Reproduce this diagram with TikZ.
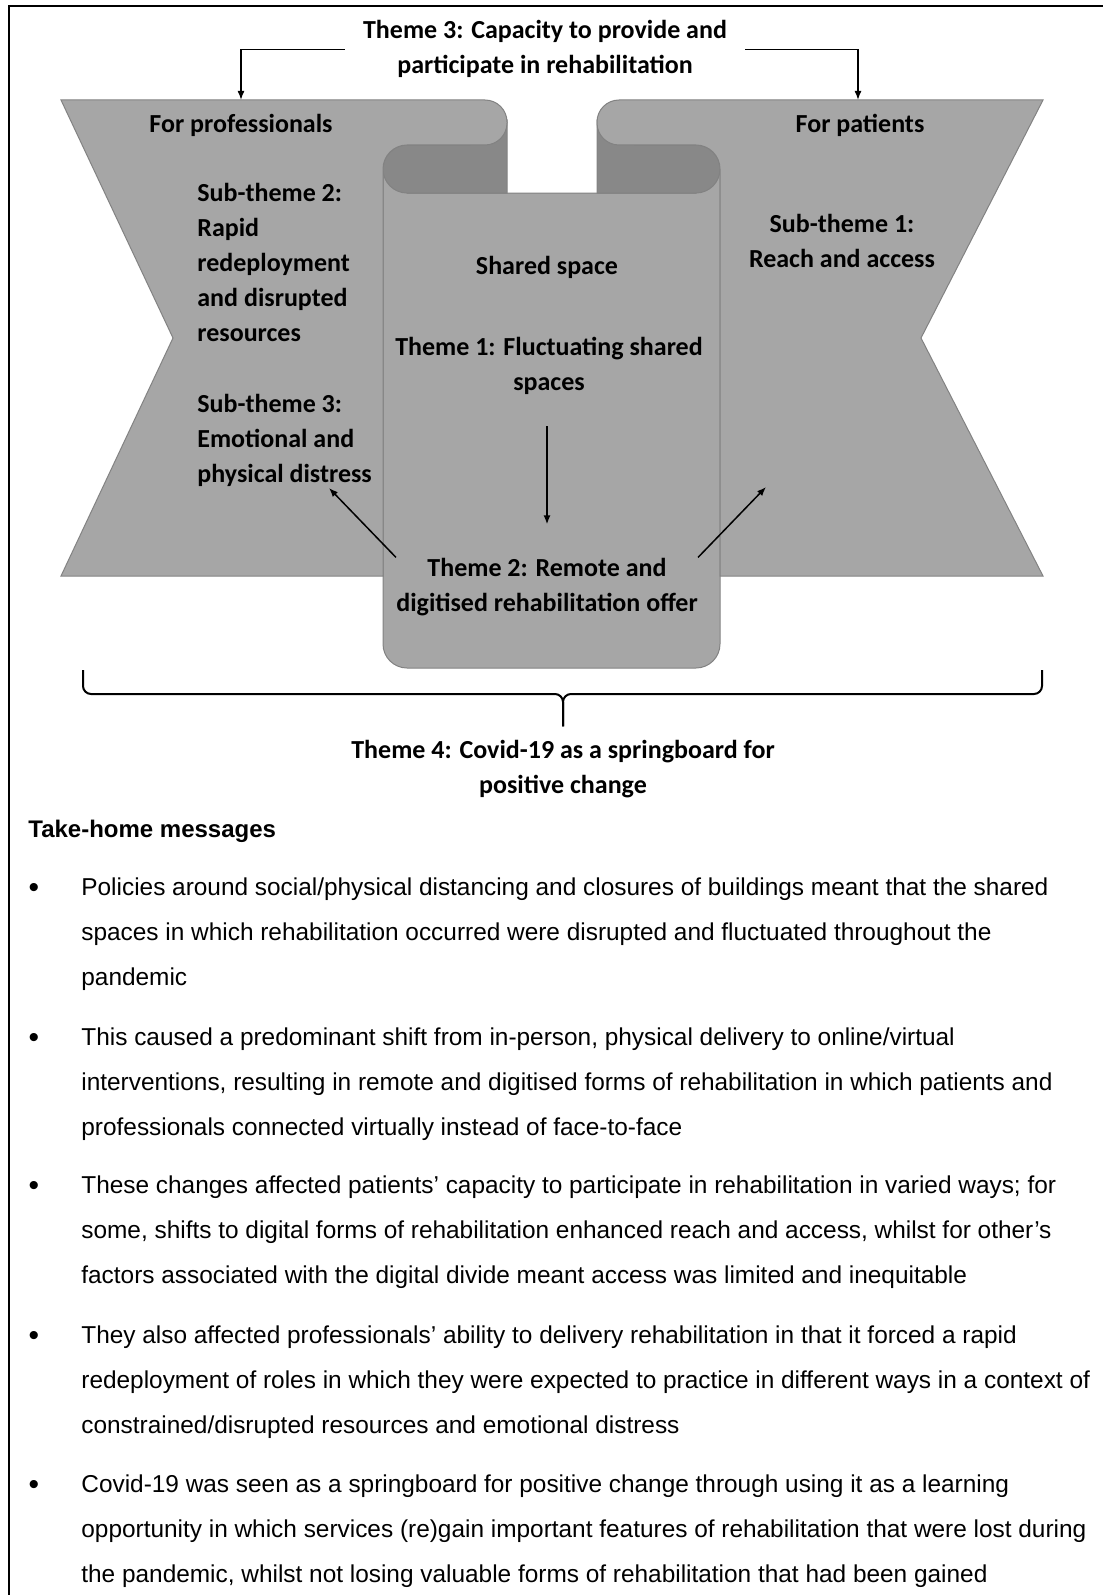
\documentclass[tikz,border=0pt]{standalone}
\usepackage{fontspec}
\setmainfont{Carlito}
\newfontfamily\arialfont{Liberation Sans}
\usepackage{tikz}
\usetikzlibrary{arrows.meta}

\definecolor{sheetgrey}{RGB}{166,166,166}
\definecolor{curlgrey}{RGB}{136,136,136}
\definecolor{edgegrey}{RGB}{130,130,130}

\begin{document}
\begin{tikzpicture}[x=0.5pt, y=-0.5pt,
        sheet/.style={fill=sheetgrey, draw=edgegrey, line width=0.5pt},
        curl/.style={fill=curlgrey, draw=edgegrey, line width=0.5pt},
        theme/.style={font=\bfseries\fontsize{13}{17.5}\selectfont, align=center, inner sep=0pt, anchor=base},
        subtheme/.style={font=\bfseries\fontsize{13}{17.5}\selectfont, align=left, inner sep=0pt, anchor=base west},
        link/.style={line width=0.75pt, -{Latex[length=4.5pt, width=3.5pt]}},
        message/.style={font=\arialfont\fontsize{12.2}{22.35}\selectfont, align=left, inner sep=0pt, anchor=base west},
        dot/.style={font=\arialfont\fontsize{15}{16}\selectfont, inner sep=0pt, anchor=base}]

            \useasboundingbox (0,0) rectangle (1103,1595);
            \draw[line width=1.2pt] (9,1595) -- (9,6) -- (1103,6);

            \path[sheet] (383,169) -- (383,644) arc[start angle=180, end angle=90, radius=24] -- (696,668) arc[start angle=90, end angle=0, radius=24] -- (720,169) -- (696,169) -- (696,193) -- (407,193) -- (407,169) -- cycle;
            \path[curl] (507,120) -- (507,193) -- (407,193) arc[start angle=90, end angle=270, radius=24] -- (470,145) -- (470,120) -- cycle;
            \path[curl] (597,120) -- (597,193) -- (696,193) arc[start angle=90, end angle=-90, radius=24] -- (634,145) -- (634,120) -- cycle;
            \path[sheet] (173,338) -- (61,100) -- (485,100) arc[start angle=270, end angle=360, radius=22] -- (507,123) arc[start angle=0, end angle=90, radius=22] -- (407,145) arc[start angle=270, end angle=180, radius=24] -- (383,576) -- (61,576) -- cycle;
            \path[sheet] (921,338) -- (1043,100) -- (619,100) arc[start angle=270, end angle=180, radius=22] -- (597,123) arc[start angle=180, end angle=90, radius=22] -- (696,145) arc[start angle=270, end angle=360, radius=24] -- (720,576) -- (1043,576) -- cycle;

            \node[theme, inner xsep=9pt] (capacity) at (545,74) {Theme 3: Capacity to provide and\\participate in rehabilitation};
            \node[theme] (forprof) at (241,133) {For professionals};
            \node[theme] (forpat) at (860,133) {For patients};
            \node[subtheme] (redeploy) at (197,341) {Sub-theme 2:\\Rapid\\redeployment\\and disrupted\\resources};
            \node[subtheme] (distress) at (197,482) {Sub-theme 3:\\Emotional and\\physical distress};
            \node[theme] (reach) at (842,267) {Sub-theme 1:\\Reach and access};
            \node[theme] (shared) at (547,274) {Shared space};
            \node[theme] (fluct) at (549,390) {Theme 1: Fluctuating shared\\spaces};
            \node[theme] (remote) at (547,611) {Theme 2: Remote and\\digitised rehabilitation offer};
            \node[theme] (spring) at (563,793) {Theme 4: Covid-19 as a springboard for\\positive change};

            \coordinate (proftop) at (241,100);
            \coordinate (pattop) at (858,100);
            \coordinate (distresstip) at (329,488);
            \coordinate (reachtip) at (766,487);
            \coordinate (braceleft) at (83,670);
            \coordinate (braceright) at (1042,670);
            \coordinate (bracemid) at (563,694);

            \draw[link] (capacity.west) -| (proftop);
            \draw[link] (capacity.east) -| (pattop);
            \draw[link, shorten <=16pt, shorten >=16.5pt] (remote.north |- fluct.south) -- (remote.north);
            \draw[link] (remote.north west) -- (distresstip);
            \draw[link] (remote.north east) -- (reachtip);
            \draw[line width=1pt, rounded corners=4pt, shorten >=6.5pt] (braceleft) |- (bracemid) -- (spring.north);
            \draw[line width=1pt, rounded corners=4pt, shorten >=6.5pt] (braceright) |- (bracemid) -- (spring.north);

            \node[message, font=\arialfont\bfseries\fontsize{12}{14}\selectfont] (takehome) at (28,837) {Take-home messages};

            \node[dot] (dot1) at (34,897) {\textbullet};
            \node[message] (msg1) at (81,985) {Policies around social/physical distancing and closures of buildings meant that the shared\\spaces in which rehabilitation occurred were disrupted and fluctuated throughout the\\pandemic};
            \node[dot] (dot2) at (34,1047) {\textbullet};
            \node[message] (msg2) at (81,1135) {This caused a predominant shift from in-person, physical delivery to online/virtual\\interventions, resulting in remote and digitised forms of rehabilitation in which patients and\\professionals connected virtually instead of face-to-face};
            \node[dot] (dot3) at (34,1195) {\textbullet};
            \node[message] (msg3) at (81,1283) {These changes affected patients’ capacity to participate in rehabilitation in varied ways; for\\some, shifts to digital forms of rehabilitation enhanced reach and access, whilst for other’s\\factors associated with the digital divide meant access was limited and inequitable};
            \node[dot] (dot4) at (34,1345) {\textbullet};
            \node[message] (msg4) at (81,1433) {They also affected professionals’ ability to delivery rehabilitation in that it forced a rapid\\redeployment of roles in which they were expected to practice in different ways in a context of\\constrained/disrupted resources and emotional distress};
            \node[dot] (dot5) at (34,1494) {\textbullet};
            \node[message] (msg5) at (81,1582) {Covid-19 was seen as a springboard for positive change through using it as a learning\\opportunity in which services (re)gain important features of rehabilitation that were lost during\\the pandemic, whilst not losing valuable forms of rehabilitation that had been gained};
        \end{tikzpicture}
\end{document}
